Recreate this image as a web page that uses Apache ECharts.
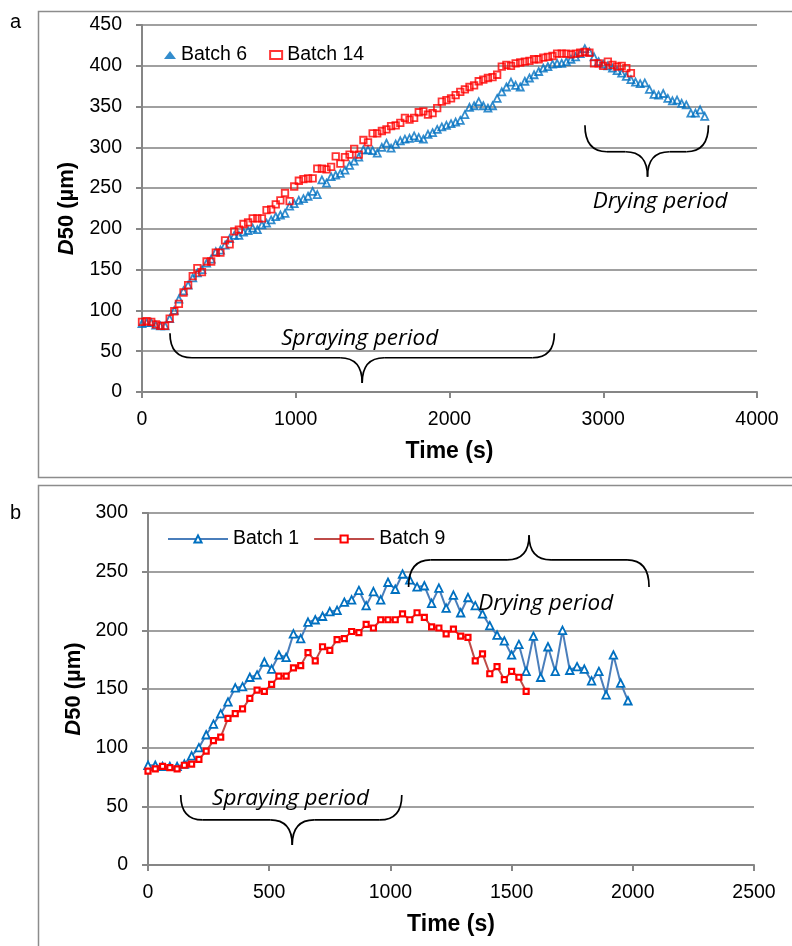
<!DOCTYPE html>
<html>
<head>
<meta charset="utf-8">
<script src="https://cdn.jsdelivr.net/npm/echarts@6/dist/echarts.min.js"></script>
<style>
  html, body { margin: 0; padding: 0; background: #fff; }
  #chart { width: 792px; height: 946px; }
</style>
</head>
<body>
<div id="chart"></div>
<script>
// ---- Data (D50 in µm, sampled every 30 s) ----
const SAMPLE_STEP_S = 30;

// Panel a
const batch6 = [
  84, 85, 85, 82, 81, 81, 90, 100, 114, 124, 131, 140, 146, 150, 158, 163, 172, 174, 180, 188,
  192, 192, 196, 198, 201, 199, 205, 207, 211, 215, 217, 219, 228, 231, 235, 237, 240, 246, 242, 260,
  256, 264, 266, 268, 272, 278, 283, 288, 297, 297, 296, 293, 300, 305, 299, 304, 308, 310, 311, 314,
  312, 310, 316, 318, 322, 325, 327, 329, 331, 333, 340, 349, 351, 356, 351, 348, 351, 360, 368, 374,
  380, 376, 374, 381, 385, 389, 393, 397, 399, 402, 403, 403, 405, 408, 411, 415, 421, 417, 411, 405,
  402, 400, 397, 394, 391, 387, 383, 380, 378, 379, 371, 365, 364, 366, 360, 357, 358, 354, 352, 342,
  342, 346, 338
];
const batch14 = [
  86, 87, 86, 83, 81, 81, 90, 99, 108, 122, 131, 142, 152, 147, 160, 160, 171, 171, 186, 181,
  197, 199, 206, 208, 213, 213, 213, 223, 224, 230, 235, 244, 234, 252, 259, 261, 262, 262, 274, 274,
  273, 276, 289, 280, 288, 291, 298, 291, 309, 306, 317, 317, 320, 322, 326, 327, 330, 336, 334, 336,
  343, 344, 340, 342, 348, 356, 358, 360, 364, 368, 371, 374, 376, 381, 383, 385, 386, 389, 399, 401,
  400, 403, 404, 405, 406, 408, 408, 410, 411, 412, 415, 415, 415, 414, 415, 416, 417, 416, 403, 403,
  400, 405, 401, 399, 400, 397, 391
];

// Panel b
const batch1 = [
  85, 85, 84, 84, 84, 86, 93, 100, 111, 120, 129, 139, 151, 152, 160, 162, 173, 167, 179, 177,
  197, 193, 207, 209, 212, 216, 217, 224, 226, 234, 221, 233, 226, 241, 235, 248, 243, 237, 238, 223,
  236, 219, 230, 215, 228, 221, 214, 204, 196, 191, 179, 188, 165, 195, 160, 186, 165, 200, 166, 169,
  167, 157, 165, 145, 179, 155, 140
];
const batch9 = [
  80, 82, 84, 83, 82, 85, 86, 90, 97, 106, 109, 125, 129, 133, 142, 149, 148, 154, 161, 161,
  168, 170, 181, 174, 186, 183, 192, 193, 199, 198, 205, 202, 209, 209, 209, 214, 209, 215, 211, 203,
  202, 197, 201, 195, 194, 174, 180, 163, 169, 158, 165, 160, 148
];

// Axis settings
const axisA = { xMin: 0, xMax: 4000, xStep: 1000, yMin: 0, yMax: 450, yStep: 50 };
const axisB = { xMin: 0, xMax: 2500, xStep: 500, yMin: 0, yMax: 300, yStep: 50 };

// Annotation braces (in data coordinates)
const bracesA = [
  { x1: 182, x2: 2682, xc: 1432, yTip: 72, yMid: 42, yPoint: 11, label: 'Spraying period', lx: 1416, ly: 65 },
  { x1: 2881, x2: 3684, xc: 3288, yTip: 327, yMid: 294.6, yPoint: 264, label: 'Drying period', lx: 3370, ly: 233 }
];
const bracesB = [
  { x1: 135, x2: 1047, xc: 595, yTip: 59.7, yMid: 38.4, yPoint: 17, label: 'Spraying period', lx: 588, ly: 57 },
  { x1: 1075, x2: 2067, xc: 1572, yTip: 237, yMid: 260, yPoint: 281, label: 'Drying period', lx: 1641, ly: 223 }
];

function withTime(vals) { return vals.map((v, i) => [i * SAMPLE_STEP_S, v]); }

const FONT = '"Liberation Sans", Arial, sans-serif';
const AXIS_COLOR = '#868686';
const GRID_COLOR = '#A0A0A0';

function xAxisCfg(gridIndex, a) {
  return {
    type: 'value', gridIndex, min: a.xMin, max: a.xMax, interval: a.xStep,
    name: 'Time (s)', nameLocation: 'middle', nameGap: 48,
    nameTextStyle: { fontFamily: FONT, fontWeight: 'bold', fontSize: 23, color: '#000' },
    axisLine: { show: true, lineStyle: { color: AXIS_COLOR, width: 2 } },
    axisTick: { show: true, length: 6, lineStyle: { color: AXIS_COLOR, width: 2 } },
    axisLabel: { fontFamily: FONT, fontSize: 19.5, color: '#000', margin: 18, formatter: v => String(v) },
    splitLine: { show: false }
  };
}
function yAxisCfg(gridIndex, a, gap) {
  return {
    type: 'value', gridIndex, min: a.yMin, max: a.yMax, interval: a.yStep,
    name: '{i|D}{n|50 (µm)}', nameLocation: 'middle', nameGap: gap, nameRotate: 90,
    nameTextStyle: {
      color: '#000',
      rich: {
        i: { fontFamily: FONT, fontWeight: 'bold', fontStyle: 'italic', fontSize: 22, color: '#000' },
        n: { fontFamily: FONT, fontWeight: 'bold', fontSize: 22, color: '#000' }
      }
    },
    axisLine: { show: true, lineStyle: { color: AXIS_COLOR, width: 2 } },
    axisTick: { show: true, inside: false, length: 6, lineStyle: { color: AXIS_COLOR, width: 2 } },
    axisLabel: { fontFamily: FONT, fontSize: 19.5, color: '#000', margin: 20, formatter: v => String(v) },
    splitLine: { show: true, lineStyle: { color: GRID_COLOR, width: 2 } }
  };
}

const chart = echarts.init(document.getElementById('chart'), null, { renderer: 'canvas' });

const option = {
  animation: false,
  backgroundColor: '#fff',
  grid: [
    { left: 142, top: 25, width: 615, height: 367, containLabel: false },
    { left: 148, top: 513, width: 606, height: 352, containLabel: false }
  ],
  xAxis: [xAxisCfg(0, axisA), xAxisCfg(1, axisB)],
  yAxis: [yAxisCfg(0, axisA, 64), yAxisCfg(1, axisB, 63)],
  legend: [
    {
      left: 159, top: 40, itemWidth: 12, itemHeight: 8, itemGap: 22,
      textStyle: { fontFamily: FONT, fontSize: 19.5, color: '#000' },
      data: [
        { name: 'Batch 6', icon: 'triangle', itemStyle: { color: '#0070C0', borderWidth: 0 } },
        { name: 'Batch 14', icon: 'rect', itemStyle: { color: '#fff', borderColor: '#FF0000', borderWidth: 2 } }
      ]
    },
    {
      left: 162, top: 524, itemWidth: 60, itemHeight: 9, itemGap: 14,
      textStyle: { fontFamily: FONT, fontSize: 19.5, color: '#000' },
      data: ['Batch 1', 'Batch 9']
    }
  ],
  series: [
    {
      name: 'Batch 6', type: 'scatter', xAxisIndex: 0, yAxisIndex: 0,
      data: withTime(batch6), symbol: 'triangle', symbolSize: 7,
      itemStyle: { color: 'rgba(255,255,255,0)', borderColor: '#0070C0', borderWidth: 1.8 }
    },
    {
      name: 'Batch 14', type: 'scatter', xAxisIndex: 0, yAxisIndex: 0,
      data: withTime(batch14), symbol: 'rect', symbolSize: 6.5,
      itemStyle: { color: 'rgba(255,255,255,0)', borderColor: '#FF0000', borderWidth: 1.8 }
    },
    {
      name: 'Batch 1', type: 'line', xAxisIndex: 1, yAxisIndex: 1,
      data: withTime(batch1), symbol: 'triangle', symbolSize: 7.5, showAllSymbol: true,
      lineStyle: { color: '#4A7EBB', width: 2 },
      itemStyle: { color: '#fff', borderColor: '#0070C0', borderWidth: 1.8 }
    },
    {
      name: 'Batch 9', type: 'line', xAxisIndex: 1, yAxisIndex: 1,
      data: withTime(batch9), symbol: 'rect', symbolSize: 5, showAllSymbol: true,
      lineStyle: { color: '#BE4B48', width: 2 },
      itemStyle: { color: '#fff', borderColor: '#FF0000', borderWidth: 2.2 }
    }
  ]
};
chart.setOption(option);

// Build annotation graphics (braces, labels, frames)
const BRACE_STYLE = { fill: null, stroke: '#000', lineWidth: 1.7 };
function curve(x1, y1, cx, cy, x2, y2) {
  return { type: 'bezierCurve', shape: { x1, y1, x2, y2, cpx1: cx, cpy1: cy }, style: BRACE_STYLE, z: 10 };
}
function seg(x1, y1, x2, y2) {
  return { type: 'line', shape: { x1, y1, x2, y2 }, style: BRACE_STYLE, z: 10 };
}
function braceParts(gridIndex, b) {
  const p1 = chart.convertToPixel({ gridIndex }, [b.x1, b.yTip]);
  const p2 = chart.convertToPixel({ gridIndex }, [b.x2, b.yTip]);
  const pm = chart.convertToPixel({ gridIndex }, [b.xc, b.yMid]);
  const pp = chart.convertToPixel({ gridIndex }, [b.xc, b.yPoint]);
  const x1 = p1[0], x2 = p2[0], yT = p1[1], yM = pm[1], xc = pm[0], yP = pp[1];
  const r = 22;
  return [
    curve(x1, yT, x1, yM, x1 + r, yM),
    seg(x1 + r, yM, xc - r, yM),
    curve(xc - r, yM, xc, yM, xc, yP),
    curve(xc, yP, xc, yM, xc + r, yM),
    seg(xc + r, yM, x2 - r, yM),
    curve(x2 - r, yM, x2, yM, x2, yT)
  ];
}
function braceLabel(gridIndex, b) {
  const p = chart.convertToPixel({ gridIndex }, [b.lx, b.ly]);
  return {
    type: 'text', x: p[0], y: p[1], z: 11,
    style: { text: b.label, font: 'italic 22.5px "Open Sans", sans-serif', fill: '#000', align: 'center', verticalAlign: 'middle' }
  };
}
const graphics = [
  { type: 'rect', shape: { x: 38.5, y: 11.5, width: 800, height: 466 }, style: { fill: null, stroke: '#8C8C8C', lineWidth: 1.5 }, z: 0 },
  { type: 'rect', shape: { x: 38.5, y: 485.5, width: 800, height: 500 }, style: { fill: null, stroke: '#8C8C8C', lineWidth: 1.5 }, z: 0 },
  { type: 'text', x: 10, y: 22, style: { text: 'a', font: '20px "Liberation Sans", Arial, sans-serif', fill: '#000', verticalAlign: 'middle' } },
  { type: 'text', x: 10, y: 513, style: { text: 'b', font: '20px "Liberation Sans", Arial, sans-serif', fill: '#000', verticalAlign: 'middle' } }
];
bracesA.forEach(b => { graphics.push(...braceParts(0, b)); graphics.push(braceLabel(0, b)); });
bracesB.forEach(b => { graphics.push(...braceParts(1, b)); graphics.push(braceLabel(1, b)); });
chart.setOption({ graphic: graphics });
</script>
</body>
</html>
